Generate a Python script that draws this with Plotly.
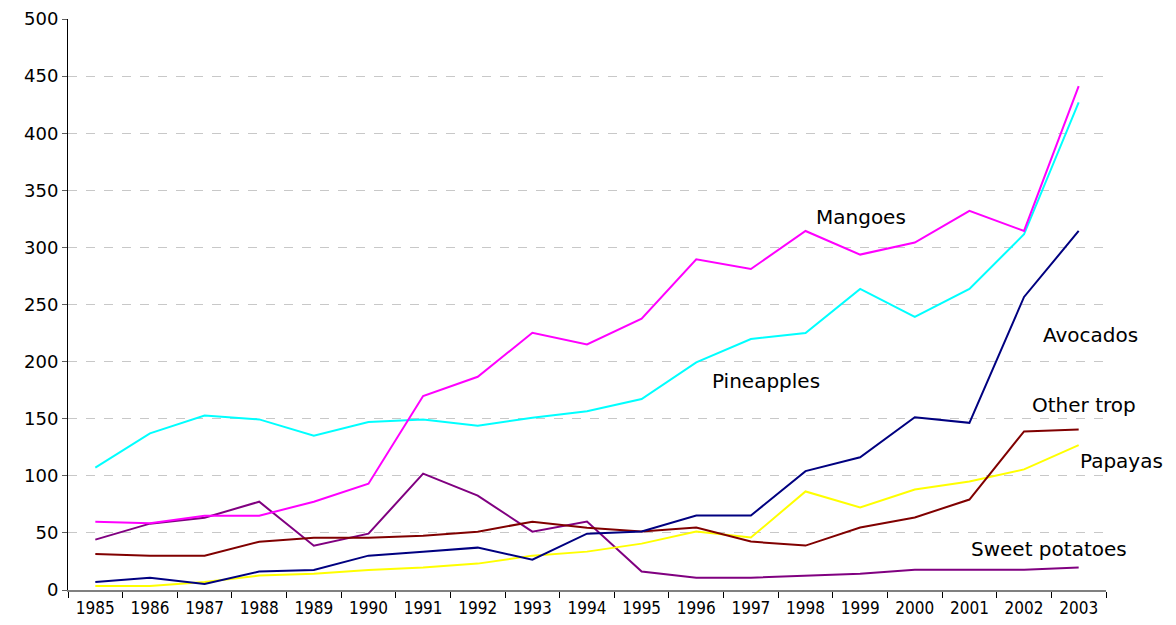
import plotly.graph_objects as go

years = [str(y) for y in range(1985, 2004)]

mangoes = [59.8, 58.4, 65.1, 65.1, 77.3, 93.1, 169.8, 186.7, 225.2, 215.0,
           237.6, 289.6, 281.1, 314.4, 293.7, 304.2, 332.0, 314.4, 441.2]
pineapples = [107.1, 137.2, 152.7, 149.4, 135.1, 147.1, 149.4, 143.9, 150.9, 156.5,
              167.2, 199.3, 219.8, 225.0, 263.6, 239.1, 263.6, 311.5, 426.9]
avocados = [7.0, 10.8, 5.3, 16.1, 17.5, 30.1, 33.6, 37.1, 26.6, 49.3,
            51.2, 65.2, 65.2, 104.1, 116.2, 151.3, 146.4, 256.6, 314.4]
other_trop = [31.5, 30.1, 30.1, 42.3, 45.8, 45.8, 47.6, 51.1, 59.8, 54.6,
              51.2, 54.7, 42.4, 38.9, 54.7, 63.5, 79.2, 138.9, 140.6]
papayas = [3.5, 3.5, 7.0, 12.6, 14.3, 17.5, 19.6, 23.1, 30.1, 33.6,
           40.6, 51.2, 45.9, 86.3, 72.2, 88.0, 95.0, 105.6, 126.9]
sweet_potatoes = [44.1, 58.1, 63.3, 77.3, 38.8, 49.3, 101.9, 82.6, 51.1, 59.9,
                  16.1, 10.8, 10.8, 12.6, 14.3, 17.8, 17.8, 17.8, 19.6]

series = [
    ("Sweet potatoes", sweet_potatoes, "#800080"),
    ("Papayas", papayas, "#FFFF00"),
    ("Other trop", other_trop, "#800000"),
    ("Avocados", avocados, "#000080"),
    ("Pineapples", pineapples, "#00FFFF"),
    ("Mangoes", mangoes, "#FF00FF"),
]

# label name, x (paper), y (paper)
labels = [
    ("Mangoes", 0.7635, 0.6538),
    ("Pineapples", 0.6729, 0.3665),
    ("Avocados", 0.9846, 0.4466),
    ("Other trop", 0.9788, 0.3240),
    ("Papayas", 1.0145, 0.2259),
    ("Sweet potatoes", 0.9451, 0.0718),
]

fig = go.Figure()
for name, vals, color in series:
    fig.add_trace(go.Scatter(x=years, y=vals, mode="lines", name=name,
                             line=dict(color=color, width=2), showlegend=False))

for text, x, y in labels:
    fig.add_annotation(x=x, y=y, xref="paper", yref="paper", text=text, showarrow=False,
                       font=dict(family="DejaVu Sans", size=20, color="#000000"),
                       xanchor="center", yanchor="middle")

fig.update_layout(
    width=1160, height=617,
    margin=dict(l=60, r=62, t=11, b=35, autoexpand=False),
    paper_bgcolor="white", plot_bgcolor="white",
    xaxis=dict(type="category", tickson="boundaries", ticks="outside", ticklen=6,
               tickcolor="#000000", showgrid=False, showline=True,
               linecolor="#808080", linewidth=2, automargin=False,
               ticklabelstandoff=2,
               tickfont=dict(family="Liberation Sans Narrow, DejaVu Sans Condensed, Arial", size=17, color="#000000"),
               range=[-0.5, 18.5]),
    yaxis=dict(range=[0, 500], dtick=50, tick0=0, ticks="outside", ticklen=5,
               tickcolor="#606060", showline=True, linecolor="#000000", linewidth=1,
               showgrid=True, gridcolor="#c8c8c8", griddash="dash", gridwidth=1,
               zeroline=False, automargin=False,
               tickfont=dict(family="DejaVu Sans", size=18, color="#000000")),
)

fig.write_html("out.html")
